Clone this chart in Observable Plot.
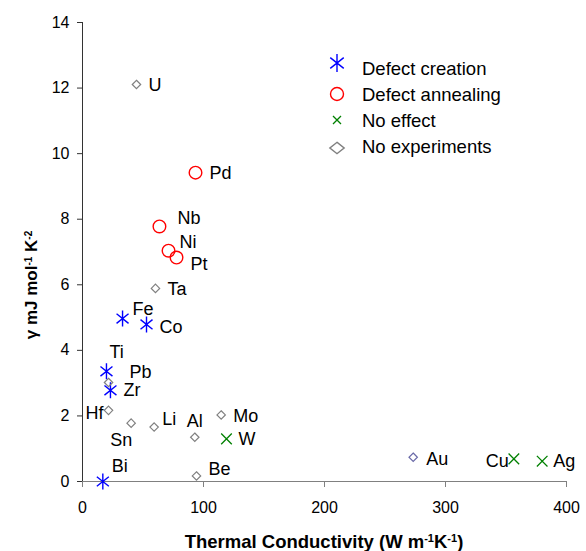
<!DOCTYPE html>
<html>
<head>
<meta charset="utf-8">
<script src="https://cdn.jsdelivr.net/npm/d3@7"></script>
<script src="https://cdn.jsdelivr.net/npm/@observablehq/plot@0.6"></script>
<style>
  html, body { margin: 0; padding: 0; background: #fff; }
  #chart { width: 586px; height: 551px; }
</style>
</head>
<body>
<div id="chart"></div>
<script>
// ---- Data ----
const elements = ["U","Pd","Nb","Ni","Pt","Ta","Fe","Co","Ti","Pb","Zr","Hf","Sn","Li","Al","Mo","W","Bi","Be","Au","Cu","Ag"];
const conductivity = [44.6, 93.4, 63.6, 71.1, 77.7, 60.3, 33.1, 52.9, 19.8, 21.5, 23.1, 21.5, 40.2, 59.2, 92.8, 114.6, 119.0, 16.8, 94.2, 273.3, 356.5, 379.9];
const gamma = [12.11, 9.42, 7.78, 7.04, 6.83, 5.89, 4.97, 4.79, 3.36, 3.02, 2.78, 2.17, 1.78, 1.66, 1.35, 2.03, 1.30, 0.0, 0.17, 0.74, 0.69, 0.62];
const effects = ["No experiments","Defect annealing","Defect annealing","Defect annealing","Defect annealing","No experiments",
  "Defect creation","Defect creation","Defect creation","No experiments","Defect creation","No experiments","No experiments",
  "No experiments","No experiments","No experiments","No effect","Defect creation","No experiments","No experiments","No effect","No effect"];
const categories = ["Defect creation","Defect annealing","No effect","No experiments"];
const xTicks = [0, 100, 200, 300, 400];
const yTicks = [0, 2, 4, 6, 8, 10, 12, 14];

// ---- Label placement (pixel offsets from the point) ----
const labelPlacement = {
  U:["start",12,1], Pd:["start",14,1], Nb:["start",18,-8], Ni:["start",11,-8], Pt:["start",14,7],
  Ta:["start",12,1], Fe:["start",10,-9], Co:["start",13,3], Ti:["start",3,-19], Pb:["start",21,-10],
  Zr:["start",13,0], Hf:["end",-5,3], Sn:["start",-21,17], Li:["start",8,-8], Al:["start",-8,-16],
  Mo:["start",12,1], W:["start",12,0], Bi:["start",9,-15], Be:["start",12,-7], Au:["start",13,2],
  Cu:["end",-5,2], Ag:["start",11,0]
};

// ---- Custom symbols ----
const asteriskSym = {draw(ctx, size) {
  const r = Math.sqrt(size / Math.PI), a = r * 0.75, b = r * 0.6;
  ctx.moveTo(0, -r); ctx.lineTo(0, r);
  ctx.moveTo(-a, -b); ctx.lineTo(a, b);
  ctx.moveTo(-a, b); ctx.lineTo(a, -b);
}};
const crossSym = {draw(ctx, size) {
  const r = Math.sqrt(size / Math.PI);
  ctx.moveTo(-r, -r); ctx.lineTo(r, r);
  ctx.moveTo(-r, r); ctx.lineTo(r, -r);
}};
const diamondSym = {draw(ctx, size) {
  const r = Math.sqrt(size / Math.PI);
  ctx.moveTo(0, -r); ctx.lineTo(r, 0); ctx.lineTo(0, r); ctx.lineTo(-r, 0); ctx.closePath();
}};
const circleSym = {draw(ctx, size) {
  const r = Math.sqrt(size / Math.PI);
  ctx.moveTo(r, 0); ctx.arc(0, 0, r, 0, 2 * Math.PI);
}};

const styles = {
  "Defect creation": {symbol: asteriskSym, r: 8, stroke: "#0000ff", strokeWidth: 1.4},
  "Defect annealing": {symbol: circleSym, r: 6.3, stroke: "#ff0000", strokeWidth: 1.4},
  "No effect": {symbol: crossSym, r: 5.3, stroke: "#008000", strokeWidth: 1.3},
  "No experiments": {symbol: diamondSym, r: 4.2, stroke: "#808080", strokeWidth: 1.2}
};

const table = elements.map((e, i) => ({element: e, k: conductivity[i], g: gamma[i], effect: effects[i]}));

const font = "'Liberation Sans', Arial, Helvetica, sans-serif";

const plot = Plot.plot({
  width: 586,
  height: 551,
  marginLeft: 82,
  marginRight: 20,
  marginTop: 22,
  marginBottom: 70,
  style: {fontFamily: font, fontSize: "16px", color: "black", background: "white", overflow: "visible"},
  x: {domain: [0, 400]},
  y: {domain: [0, 14]},
  marks: [
    Plot.axisX(xTicks, {tickSize: 6, tickPadding: 14, label: null, stroke: "#808080", fill: "black", fontSize: 16}),
    Plot.axisY(yTicks, {tickSize: 5, tickPadding: 8, label: null, stroke: "#333", fill: "black", fontSize: 16}),
    Plot.ruleY([0], {stroke: "#808080", strokeWidth: 1}),
    Plot.ruleX([0], {stroke: "#333", strokeWidth: 1}),
    ...categories.map(c => {
      const s = styles[c];
      return Plot.dot(table.filter(d => d.effect === c), {
        x: "k", y: "g", symbol: s.symbol, r: s.r, fill: "none",
        stroke: d => d.element === "Au" ? "#6a6aa8" : s.stroke,
        strokeWidth: s.strokeWidth
      });
    }),
    ...table.map(d => {
      const [anchor, dx, dy] = labelPlacement[d.element];
      return Plot.text([d], {x: "k", y: "g", text: "element", textAnchor: anchor, dx, dy, fontSize: 18, fill: "black"});
    })
  ]
});

document.getElementById("chart").appendChild(plot);

// ---- Axis titles with superscripts ----
const svg = d3.select(plot);
const yTitle = svg.append("text")
  .attr("transform", "translate(37,285) rotate(-90)")
  .attr("text-anchor", "middle")
  .attr("font-family", font).attr("font-size", 17).attr("font-weight", "bold").attr("fill", "black");
yTitle.append("tspan").text("γ mJ mol");
yTitle.append("tspan").attr("baseline-shift", "super").attr("font-size", 10).text("-1");
yTitle.append("tspan").text(" K");
yTitle.append("tspan").attr("baseline-shift", "super").attr("font-size", 10).text("-2");

const xTitle = svg.append("text")
  .attr("x", 324).attr("y", 548)
  .attr("text-anchor", "middle")
  .attr("font-family", font).attr("font-size", 18.5).attr("font-weight", "bold").attr("fill", "black");
xTitle.append("tspan").text("Thermal Conductivity (W m");
xTitle.append("tspan").attr("baseline-shift", "super").attr("font-size", 11).text("-1");
xTitle.append("tspan").text("K");
xTitle.append("tspan").attr("baseline-shift", "super").attr("font-size", 11).text("-1");
xTitle.append("tspan").text(")");

// ---- Legend (inside plot area, top right) ----
const legendRows = [
  {label: "Defect creation", symbol: asteriskSym, r: 9, stroke: "#0000ff", sw: 1.4, sy: 63, ty: 69},
  {label: "Defect annealing", symbol: circleSym, r: 6.5, stroke: "#ff0000", sw: 1.4, sy: 94, ty: 95},
  {label: "No effect", symbol: crossSym, r: 4, stroke: "#008000", sw: 1.3, sy: 120, ty: 121},
  {label: "No experiments", symbol: diamondSym, r: 6, stroke: "#808080", sw: 1.3, sy: 148, ty: 147}
];
const lg = svg.append("g");
legendRows.forEach(row => {
  lg.append("path")
    .attr("transform", `translate(337,${row.sy})` + (row.symbol === diamondSym ? " scale(1.2,0.95)" : ""))
    .attr("d", d3.symbol(row.symbol, Math.PI * row.r * row.r)())
    .attr("fill", "none").attr("stroke", row.stroke).attr("stroke-width", row.sw);
  lg.append("text")
    .attr("x", 362).attr("y", row.ty).attr("dy", "0.35em")
    .attr("text-anchor", "start")
    .attr("font-family", font).attr("font-size", 18.5).attr("fill", "black")
    .text(row.label);
});
</script>
</body>
</html>
